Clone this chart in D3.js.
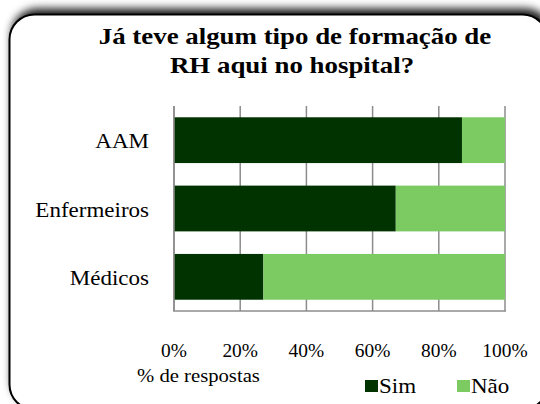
<!DOCTYPE html>
<html>
<head>
<meta charset="utf-8">
<script src="https://cdn.jsdelivr.net/npm/d3@7"></script>
<style>
  body { margin: 0; background: #fff; }
</style>
</head>
<body>
<div id="chart"></div>
<script>
// chart data
var categories = ["AAM", "Enfermeiros", "Médicos"];
var sim = [0.87, 0.67, 0.27];
var nao = [0.13, 0.33, 0.73];
var seriesNames = ["Sim", "Não"];
var tickValues = [0, 0.2, 0.4, 0.6, 0.8, 1];
var titleLines = ["Já teve algum tipo de formação de", "RH aqui no hospital?"];
var axisTitle = "% de respostas";

(function() {
  var width = 540, height = 404;
  var colors = ["#003300", "#7cca62"];
  var font = "Liberation Serif";

  var svg = d3.select("#chart").append("svg")
    .attr("width", width)
    .attr("height", height);

  // little helper: text stretched a bit wider, like the original rendering
  function label(parent, x, y, str, size, sx, anchor, bold) {
    return parent.append("text")
      .attr("transform", "translate(" + x + "," + y + ") scale(" + sx + ",1)")
      .attr("font-family", font)
      .attr("font-size", size)
      .attr("font-weight", bold ? "bold" : "normal")
      .attr("text-anchor", anchor)
      .attr("fill", "#000")
      .text(str);
  }

  // shadow for the frame
  var defs = svg.append("defs");
  var f = defs.append("filter").attr("id", "shadow")
    .attr("x", "-10%").attr("y", "-10%").attr("width", "120%").attr("height", "120%");
  f.append("feDropShadow")
    .attr("dx", 3).attr("dy", -5)
    .attr("stdDeviation", 4)
    .attr("flood-color", "#000").attr("flood-opacity", 0.9);

  svg.append("rect")
    .attr("x", 9.5).attr("y", 14.5)
    .attr("width", 538).attr("height", 395)
    .attr("rx", 25).attr("ry", 25)
    .attr("fill", "#fff")
    .attr("stroke", "#000")
    .attr("stroke-width", 2)
    .attr("filter", "url(#shadow)");

  // title
  label(svg, 295, 44, titleLines[0], 24, 1.12, "middle", true);
  label(svg, 292, 73, titleLines[1], 24, 1.12, "middle", true);

  var x = d3.scaleLinear().domain([0, 1]).range([174, 505]);
  var y = d3.scaleBand().domain(categories).range([106, 311]).paddingInner(0.33).paddingOuter(0.165);

  // gridlines
  svg.append("g")
    .selectAll("line")
    .data(tickValues)
    .join("line")
    .attr("x1", d => x(d)).attr("x2", d => x(d))
    .attr("y1", 106).attr("y2", 311)
    .attr("stroke", "#8c8c8c").attr("stroke-width", 1.5);

  // stacked bars
  var rows = categories.map((c, i) => ({ cat: c, vals: [sim[i], nao[i]] }));
  var stack = d3.stack().keys([0, 1]).value((d, k) => d.vals[k]);
  var layers = stack(rows);

  svg.append("g")
    .selectAll("g")
    .data(layers)
    .join("g")
    .attr("fill", (d, i) => colors[i])
    .selectAll("rect")
    .data(d => d)
    .join("rect")
    .attr("x", d => x(d[0]))
    .attr("width", d => x(Math.min(d[1], 1)) - x(d[0]))
    .attr("y", d => y(d.data.cat))
    .attr("height", y.bandwidth());

  // axis lines
  svg.append("line")
    .attr("x1", 174).attr("x2", 174).attr("y1", 106).attr("y2", 311)
    .attr("stroke", "#8c8c8c").attr("stroke-width", 1.5);
  svg.append("line")
    .attr("x1", 173).attr("x2", 506).attr("y1", 311).attr("y2", 311)
    .attr("stroke", "#8c8c8c").attr("stroke-width", 1.5);

  // category labels
  var catG = svg.append("g");
  categories.forEach(c => {
    label(catG, 149, y(c) + y.bandwidth() / 2 + 8, c, 20, 1.15, "end", false);
  });

  // tick labels
  var tickG = svg.append("g");
  tickValues.forEach(t => {
    label(tickG, x(t), 357, d3.format(".0%")(t), 18, 1.08, "middle", false);
  });

  label(svg, 137, 382, axisTitle, 18, 1.15, "start", false);

  // legend
  var legendX = [365, 457];
  seriesNames.forEach((s, i) => {
    svg.append("rect")
      .attr("x", legendX[i]).attr("y", 380)
      .attr("width", 13).attr("height", 12)
      .attr("fill", colors[i]);
    label(svg, legendX[i] + 14, 393, s, 20, 1.15, "start", false);
  });
})();
</script>
</body>
</html>
